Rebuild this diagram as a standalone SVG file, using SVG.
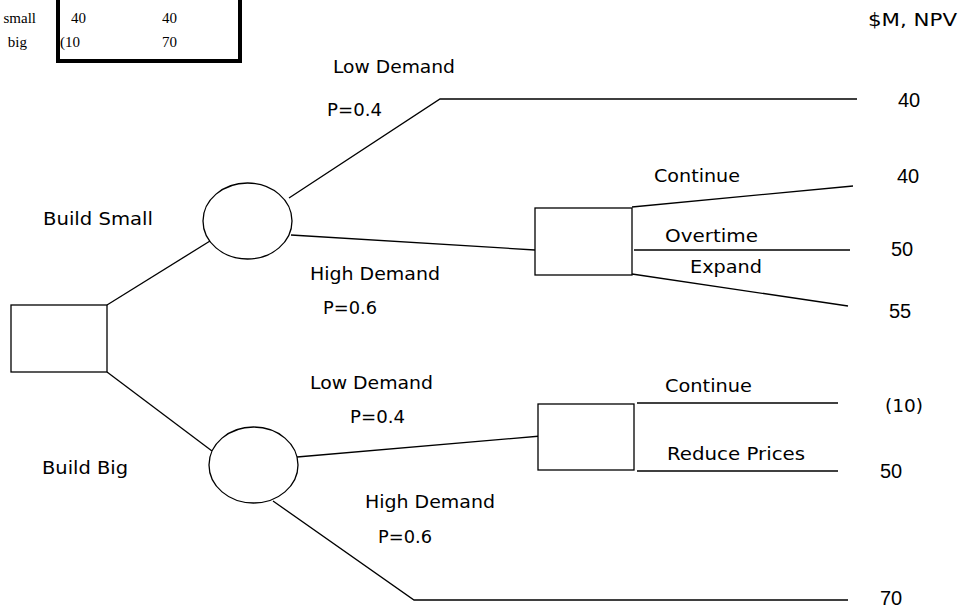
<svg xmlns="http://www.w3.org/2000/svg" width="961" height="612" viewBox="0 0 961 612">
<style>
.ln{stroke:#000;stroke-width:1.3;fill:none}
.nd{stroke:#000;stroke-width:1.3;fill:#fff}
.lb{font-family:"DejaVu Sans","Liberation Sans",sans-serif;font-size:18px;fill:#000}
.vl{font-family:"Liberation Sans",Arial,sans-serif;font-size:20px;fill:#000}
.tb{font-family:"Liberation Serif","Times New Roman",serif;font-size:15px;fill:#000}
</style>
<rect width="961" height="612" fill="#fff"/>
<g id="table">
<rect x="58" y="-10" width="182" height="71" fill="#fff" stroke="#000" stroke-width="4"/>
<text class="tb" x="36" y="23" text-anchor="end">small</text>
<text class="tb" x="27" y="47" text-anchor="end">big</text>
<text class="tb" x="71" y="23">40</text>
<text class="tb" x="162" y="23">40</text>
<text class="tb" x="60" y="47">(10</text>
<text class="tb" x="162" y="47">70</text>
</g>
<text class="lb" x="868" y="26" textLength="89" lengthAdjust="spacingAndGlyphs">$M, NPV</text>
<g id="connectors">
<line class="ln" x1="107" y1="305" x2="210" y2="241"/>
<line class="ln" x1="107" y1="372" x2="212" y2="451"/>
<polyline class="ln" points="289,198 440,99 857,99"/>
<line class="ln" x1="291" y1="235" x2="535" y2="250"/>
<line class="ln" x1="632" y1="207" x2="853" y2="186"/>
<line class="ln" x1="634" y1="250" x2="850" y2="250"/>
<line class="ln" x1="632" y1="274" x2="848" y2="306"/>
<line class="ln" x1="297" y1="457" x2="541" y2="436"/>
<polyline class="ln" points="273,501 414,600 848,600"/>
<line class="ln" x1="637" y1="403" x2="838" y2="403"/>
<line class="ln" x1="637" y1="471" x2="838" y2="471"/>
</g>
<g id="root"><rect class="nd" x="11" y="305" width="96" height="67"/></g>
<g id="chance-small"><ellipse class="nd" cx="247.5" cy="221" rx="44.5" ry="38"/></g>
<g id="chance-big"><ellipse class="nd" cx="253.5" cy="465" rx="44.5" ry="38"/></g>
<g id="decision-small"><rect class="nd" x="535" y="208" width="97" height="67"/></g>
<g id="decision-big"><rect class="nd" x="538" y="404" width="96" height="66"/></g>
<g id="labels">
<text class="lb" x="43" y="225" textLength="110" lengthAdjust="spacingAndGlyphs">Build Small</text>
<text class="lb" x="42" y="474" textLength="86" lengthAdjust="spacingAndGlyphs">Build Big</text>
<text class="lb" x="333" y="73" textLength="122" lengthAdjust="spacingAndGlyphs">Low Demand</text>
<text class="lb" x="327" y="116" textLength="55" lengthAdjust="spacingAndGlyphs">P=0.4</text>
<text class="lb" x="310" y="280" textLength="130" lengthAdjust="spacingAndGlyphs">High Demand</text>
<text class="lb" x="323" y="314" textLength="54" lengthAdjust="spacingAndGlyphs">P=0.6</text>
<text class="lb" x="310" y="389" textLength="123" lengthAdjust="spacingAndGlyphs">Low Demand</text>
<text class="lb" x="350" y="423" textLength="55" lengthAdjust="spacingAndGlyphs">P=0.4</text>
<text class="lb" x="365" y="508" textLength="130" lengthAdjust="spacingAndGlyphs">High Demand</text>
<text class="lb" x="378" y="543" textLength="54" lengthAdjust="spacingAndGlyphs">P=0.6</text>
<text class="lb" x="654" y="182" textLength="86" lengthAdjust="spacingAndGlyphs">Continue</text>
<text class="lb" x="665" y="242" textLength="93" lengthAdjust="spacingAndGlyphs">Overtime</text>
<text class="lb" x="690" y="273" textLength="72" lengthAdjust="spacingAndGlyphs">Expand</text>
<text class="lb" x="665" y="392" textLength="87" lengthAdjust="spacingAndGlyphs">Continue</text>
<text class="lb" x="667" y="460" textLength="138" lengthAdjust="spacingAndGlyphs">Reduce Prices</text>
</g>
<g id="values">
<text class="vl" x="898" y="107">40</text>
<text class="vl" x="897" y="183">40</text>
<text class="vl" x="891" y="256">50</text>
<text class="vl" x="889" y="318">55</text>
<text class="lb" x="885" y="412" textLength="38" lengthAdjust="spacingAndGlyphs">(10)</text>
<text class="vl" x="880" y="478">50</text>
<text class="vl" x="880" y="605">70</text>
</g>
</svg>
